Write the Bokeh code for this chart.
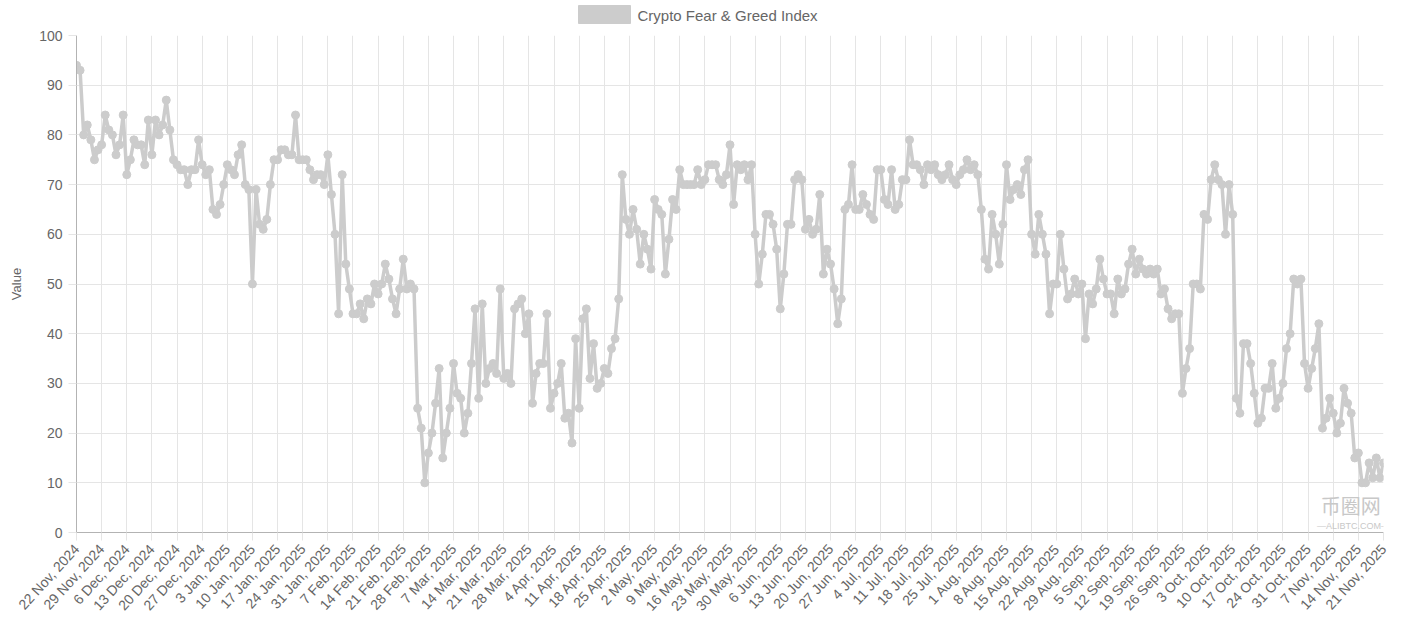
from bokeh.plotting import figure
from bokeh.layouts import column
from bokeh.models import (ColumnDataSource, FixedTicker, Range1d, Label)
from bokeh.core.properties import value
from bokeh.embed import file_html
from bokeh.resources import INLINE

series_name = "Crypto Fear & Greed Index"

# daily index values, 22 Nov 2024 .. 21 Nov 2025
values = [
    94, 93, 80, 82, 79, 75, 77, 78, 84, 81, 80, 76, 78, 84,
    72, 75, 79, 78, 78, 74, 83, 76, 83, 80, 82, 87, 81, 75,
    74, 73, 73, 70, 73, 73, 79, 74, 72, 73, 65, 64, 66, 70,
    74, 73, 72, 76, 78, 70, 69, 50, 69, 62, 61, 63, 70, 75,
    75, 77, 77, 76, 76, 84, 75, 75, 75, 73, 71, 72, 72, 70,
    76, 68, 60, 44, 72, 54, 49, 44, 44, 46, 43, 47, 46, 50,
    48, 50, 54, 51, 47, 44, 49, 55, 49, 50, 49, 25, 21, 10,
    16, 20, 26, 33, 15, 20, 25, 34, 28, 27, 20, 24, 34, 45,
    27, 46, 30, 33, 34, 32, 49, 31, 32, 30, 45, 46, 47, 40,
    44, 26, 32, 34, 34, 44, 25, 28, 30, 34, 23, 24, 18, 39,
    25, 43, 45, 31, 38, 29, 30, 33, 32, 37, 39, 47, 72, 63,
    60, 65, 61, 54, 60, 57, 53, 67, 65, 64, 52, 59, 67, 65,
    73, 70, 70, 70, 70, 73, 70, 71, 74, 74, 74, 71, 70, 72,
    78, 66, 74, 73, 74, 71, 74, 60, 50, 56, 64, 64, 62, 57,
    45, 52, 62, 62, 71, 72, 71, 61, 63, 60, 61, 68, 52, 57,
    54, 49, 42, 47, 65, 66, 74, 65, 65, 68, 66, 64, 63, 73,
    73, 67, 66, 73, 65, 66, 71, 71, 79, 74, 74, 73, 70, 74,
    73, 74, 72, 71, 72, 74, 71, 70, 72, 73, 75, 73, 74, 72,
    65, 55, 53, 64, 60, 54, 62, 74, 67, 69, 70, 68, 73, 75,
    60, 56, 64, 60, 56, 44, 50, 50, 60, 53, 47, 48, 51, 48,
    50, 39, 48, 46, 49, 55, 51, 48, 48, 44, 51, 48, 49, 54,
    57, 52, 55, 53, 52, 53, 52, 53, 48, 49, 45, 43, 44, 44,
    28, 33, 37, 50, 50, 49, 64, 63, 71, 74, 71, 70, 60, 70,
    64, 27, 24, 38, 38, 34, 28, 22, 23, 29, 29, 34, 25, 27,
    30, 37, 40, 51, 50, 51, 34, 29, 33, 37, 42, 21, 23, 27,
    24, 20, 22, 29, 26, 24, 15, 16, 10, 10, 14, 11, 15, 11,
    14,
]

week_labels = [
    "22 Nov, 2024", "29 Nov, 2024", "6 Dec, 2024", "13 Dec, 2024",
    "20 Dec, 2024", "27 Dec, 2024", "3 Jan, 2025", "10 Jan, 2025",
    "17 Jan, 2025", "24 Jan, 2025", "31 Jan, 2025", "7 Feb, 2025",
    "14 Feb, 2025", "21 Feb, 2025", "28 Feb, 2025", "7 Mar, 2025",
    "14 Mar, 2025", "21 Mar, 2025", "28 Mar, 2025", "4 Apr, 2025",
    "11 Apr, 2025", "18 Apr, 2025", "25 Apr, 2025", "2 May, 2025",
    "9 May, 2025", "16 May, 2025", "23 May, 2025", "30 May, 2025",
    "6 Jun, 2025", "13 Jun, 2025", "20 Jun, 2025", "27 Jun, 2025",
    "4 Jul, 2025", "11 Jul, 2025", "18 Jul, 2025", "25 Jul, 2025",
    "1 Aug, 2025", "8 Aug, 2025", "15 Aug, 2025", "22 Aug, 2025",
    "29 Aug, 2025", "5 Sep, 2025", "12 Sep, 2025", "19 Sep, 2025",
    "26 Sep, 2025", "3 Oct, 2025", "10 Oct, 2025", "17 Oct, 2025",
    "24 Oct, 2025", "31 Oct, 2025", "7 Nov, 2025", "14 Nov, 2025",
    "21 Nov, 2025",
]

y_ticks = [0, 10, 20, 30, 40, 50, 60, 70, 80, 90, 100]

FONT = "Liberation Sans"
GREY = "#cccccc"
TXT = "#666666"
GRID = "#e5e5e5"

# ---- legend strip (top of the chart); its frame is aligned with the main frame ----
lg = figure(width=1405, height=24, output_backend="svg", toolbar_location=None,
            x_range=Range1d(76, 1383), y_range=Range1d(24, 0),
            min_border=0, x_axis_type=None, y_axis_type=None)
lg.outline_line_color = None
lg.xgrid.visible = False
lg.ygrid.visible = False
lg.quad(left=[578], right=[630], top=[5], bottom=[23],
        fill_color=GREY, line_color=GREY)
lg.text(x=[637], y=[14.5], text=[series_name], text_font=value(FONT),
        text_font_size="15px", text_color=TXT, text_baseline="middle",
        text_align="left")

# ---- main chart ----
xs = list(range(len(values)))
src = ColumnDataSource(dict(x=xs, v=values))

p = figure(width=1405, height=609, output_backend="svg", toolbar_location=None,
           x_range=Range1d(0, len(values) - 1), y_range=Range1d(0, 100),
           min_border_left=76, min_border_right=22, min_border_top=11,
           min_border_bottom=101)
p.outline_line_color = None
p.background_fill_color = "white"
p.border_fill_color = "white"

p.line("x", "v", source=src, line_color=GREY, line_width=3.5)
p.scatter("x", "v", source=src, size=8, fill_color=GREY, line_color=GREY)

week_ticks = [7 * k for k in range(len(week_labels))]
p.xaxis.ticker = FixedTicker(ticks=week_ticks)
p.xaxis.major_label_overrides = {t: lab for t, lab in zip(week_ticks, week_labels)}
p.xaxis.major_label_orientation = 0.83
p.yaxis.ticker = FixedTicker(ticks=y_ticks)
p.yaxis.axis_label = "Value"

for ax in (p.xaxis[0], p.yaxis[0]):
    ax.major_label_text_font = FONT
    ax.major_label_text_font_size = "14px"
    ax.major_label_text_color = TXT
    ax.axis_line_color = "#b3b3b3"
    ax.major_tick_line_color = GRID
    ax.major_tick_out = 8
    ax.major_tick_in = 0
    ax.minor_tick_line_color = None
    ax.major_label_standoff = 6
p.yaxis.axis_label_text_font = FONT
p.yaxis.axis_label_text_font_size = "13px"
p.yaxis.axis_label_text_font_style = "normal"
p.yaxis.axis_label_text_color = TXT
p.yaxis.axis_label_standoff = 12

p.xgrid.grid_line_color = GRID
p.ygrid.grid_line_color = GRID

# site watermark, kept inside the plot frame's bottom-right corner
p.add_layout(Label(x=346.5, y=2.6, text="币圈网", text_font="Noto Sans CJK SC",
                   text_font_size="20px", text_color="#c8c8c8"))
p.add_layout(Label(x=345.5, y=0.4, text="—ALIBTC.COM—", text_font=FONT,
                   text_font_size="9px", text_color="#c8c8c8"))

layout = column(lg, p, spacing=0)
open("out.html", "w").write(file_html(layout, INLINE))
